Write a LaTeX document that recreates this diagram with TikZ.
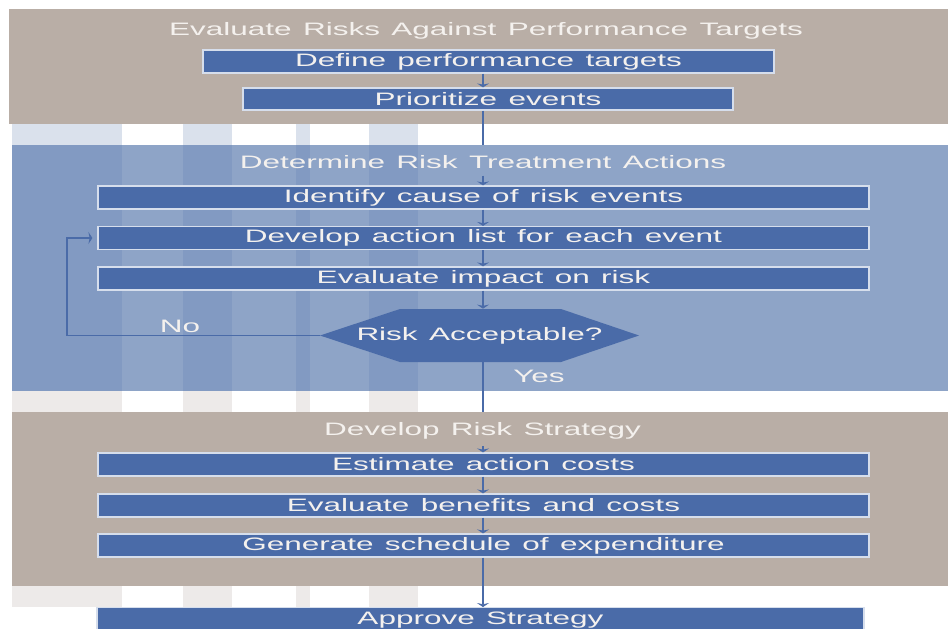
\documentclass[tikz,border=0pt]{standalone}
\usepackage{fontspec}
\setmainfont{Liberation Sans}[FakeStretch=1.75,WordSpace=1.3]
\usetikzlibrary{arrows.meta}

\definecolor{panelTan}{RGB}{185,174,166}
\definecolor{panelBlue}{RGB}{142,164,199}
\definecolor{stripeBlue}{RGB}{130,154,194}
\definecolor{bandBlue}{RGB}{218,225,236}
\definecolor{bandGray}{RGB}{237,234,233}
\definecolor{stepBlue}{RGB}{74,107,168}
\definecolor{stepEdge}{RGB}{214,222,236}
\definecolor{paleText}{RGB}{244,241,238}

\tikzset{
  stepbox/.style={draw=stepEdge,fill=stepBlue,line width=0.6pt,minimum height=11.5pt,
    inner sep=0pt,text=paleText},
  decision/.style={minimum height=26.5pt,inner sep=0pt,text=paleText},
  phase/.style={text=paleText},
  flow/.style={draw=stepBlue,line width=0.8pt,-{Stealth[length=2pt,width=6pt]}},
  link/.style={draw=stepBlue,line width=0.8pt},
}

\begin{document}
\begin{tikzpicture}[x=0.5pt,y=-0.5pt,every node/.style={font=\fontsize{9}{11}\selectfont}]
\useasboundingbox (0,0) rectangle (948,628);
\clip (0,0) rectangle (948,628);
\fill[white] (0,0) rectangle (948,628);

% phase panels and the striped gaps between them
\fill[panelTan] (9,9) rectangle (948,124);
\fill[panelBlue] (12,145) rectangle (948,391);
\fill[panelTan] (12,412) rectangle (948,586);
\foreach \xa/\xb in {12/122,183/232,296/310,369/418} {
  \fill[bandBlue] (\xa,124) rectangle (\xb,145);
  \fill[stripeBlue] (\xa,145) rectangle (\xb,391);
  \fill[bandGray] (\xa,391) rectangle (\xb,412);
  \fill[bandGray] (\xa,586) rectangle (\xb,607);
}
\coordinate (spine) at (483,0);

% evaluate
\node[phase] (evalTitle) at (486,31) {Evaluate Risks Against Performance Targets};
\node[stepbox,minimum width=285.5pt] (define) at (488.5,61.5) {Define performance targets};
\node[stepbox,minimum width=245pt,minimum height=11pt] (prioritize) at (488,99) {Prioritize events};
\coordinate (treatTop) at (483,145);

% treatment
\node[phase] (treatTitle) at (483,162) {Determine Risk Treatment Actions};
\node[stepbox,minimum width=385.5pt] (identify) at (483.5,197.5) {Identify cause of risk events};
\node[stepbox,minimum width=385.5pt] (develop) at (483.5,238) {Develop action list for each event};
\node[stepbox,minimum width=385.5pt] (impact) at (483.5,278.5) {Evaluate impact on risk};
\fill[stepBlue] (320,335.5) coordinate (acceptW) -- (400,309) -- (561,309) -- (639,335.5)
  -- (561,362) -- (400,362) -- cycle;
\node[decision] (accept) at (479.5,335.5) {Risk Acceptable?};
\node[phase] (noLabel) at (180,326) {No};
\node[phase] (yesLabel) at (539,376) {Yes};
\coordinate (loopCorner) at (67,335.5);
\coordinate (strategyTop) at (483,412);

% strategy
\node[phase] (stratTitle) at (482.5,431) {Develop Risk Strategy};
\node[stepbox,minimum width=385.5pt] (estimate) at (483.5,464.5) {Estimate action costs};
\node[stepbox,minimum width=385.5pt] (benefits) at (483.5,505.5) {Evaluate benefits and costs};
\node[stepbox,minimum width=385.5pt] (schedule) at (483.5,545.5) {Generate schedule of expenditure};
\node[stepbox,minimum width=383.5pt,minimum height=12pt,anchor=north] (approve) at (480.5,607) {Approve Strategy};

% connectors
\draw[flow] (spine |- define.south) -- (spine |- prioritize.north);
\draw[link] (spine |- prioritize.south) -- (treatTop);
\draw[flow] (spine |- treatTitle.south) -- (spine |- identify.north);
\draw[flow] (spine |- identify.south) -- (spine |- develop.north);
\draw[flow] (spine |- develop.south) -- (spine |- impact.north);
\draw[flow] (spine |- impact.south) -- (spine |- accept.north);
\draw[flow,shorten >=2.5pt] (acceptW) -- (loopCorner) |- (develop.west);
\draw[link] (spine |- accept.south) -- (strategyTop);
\draw[flow] (spine |- stratTitle.south) -- (spine |- estimate.north);
\draw[flow] (spine |- estimate.south) -- (spine |- benefits.north);
\draw[flow] (spine |- benefits.south) -- (spine |- schedule.north);
\draw[flow] (spine |- schedule.south) -- (spine |- approve.north);
\end{tikzpicture}
\end{document}
